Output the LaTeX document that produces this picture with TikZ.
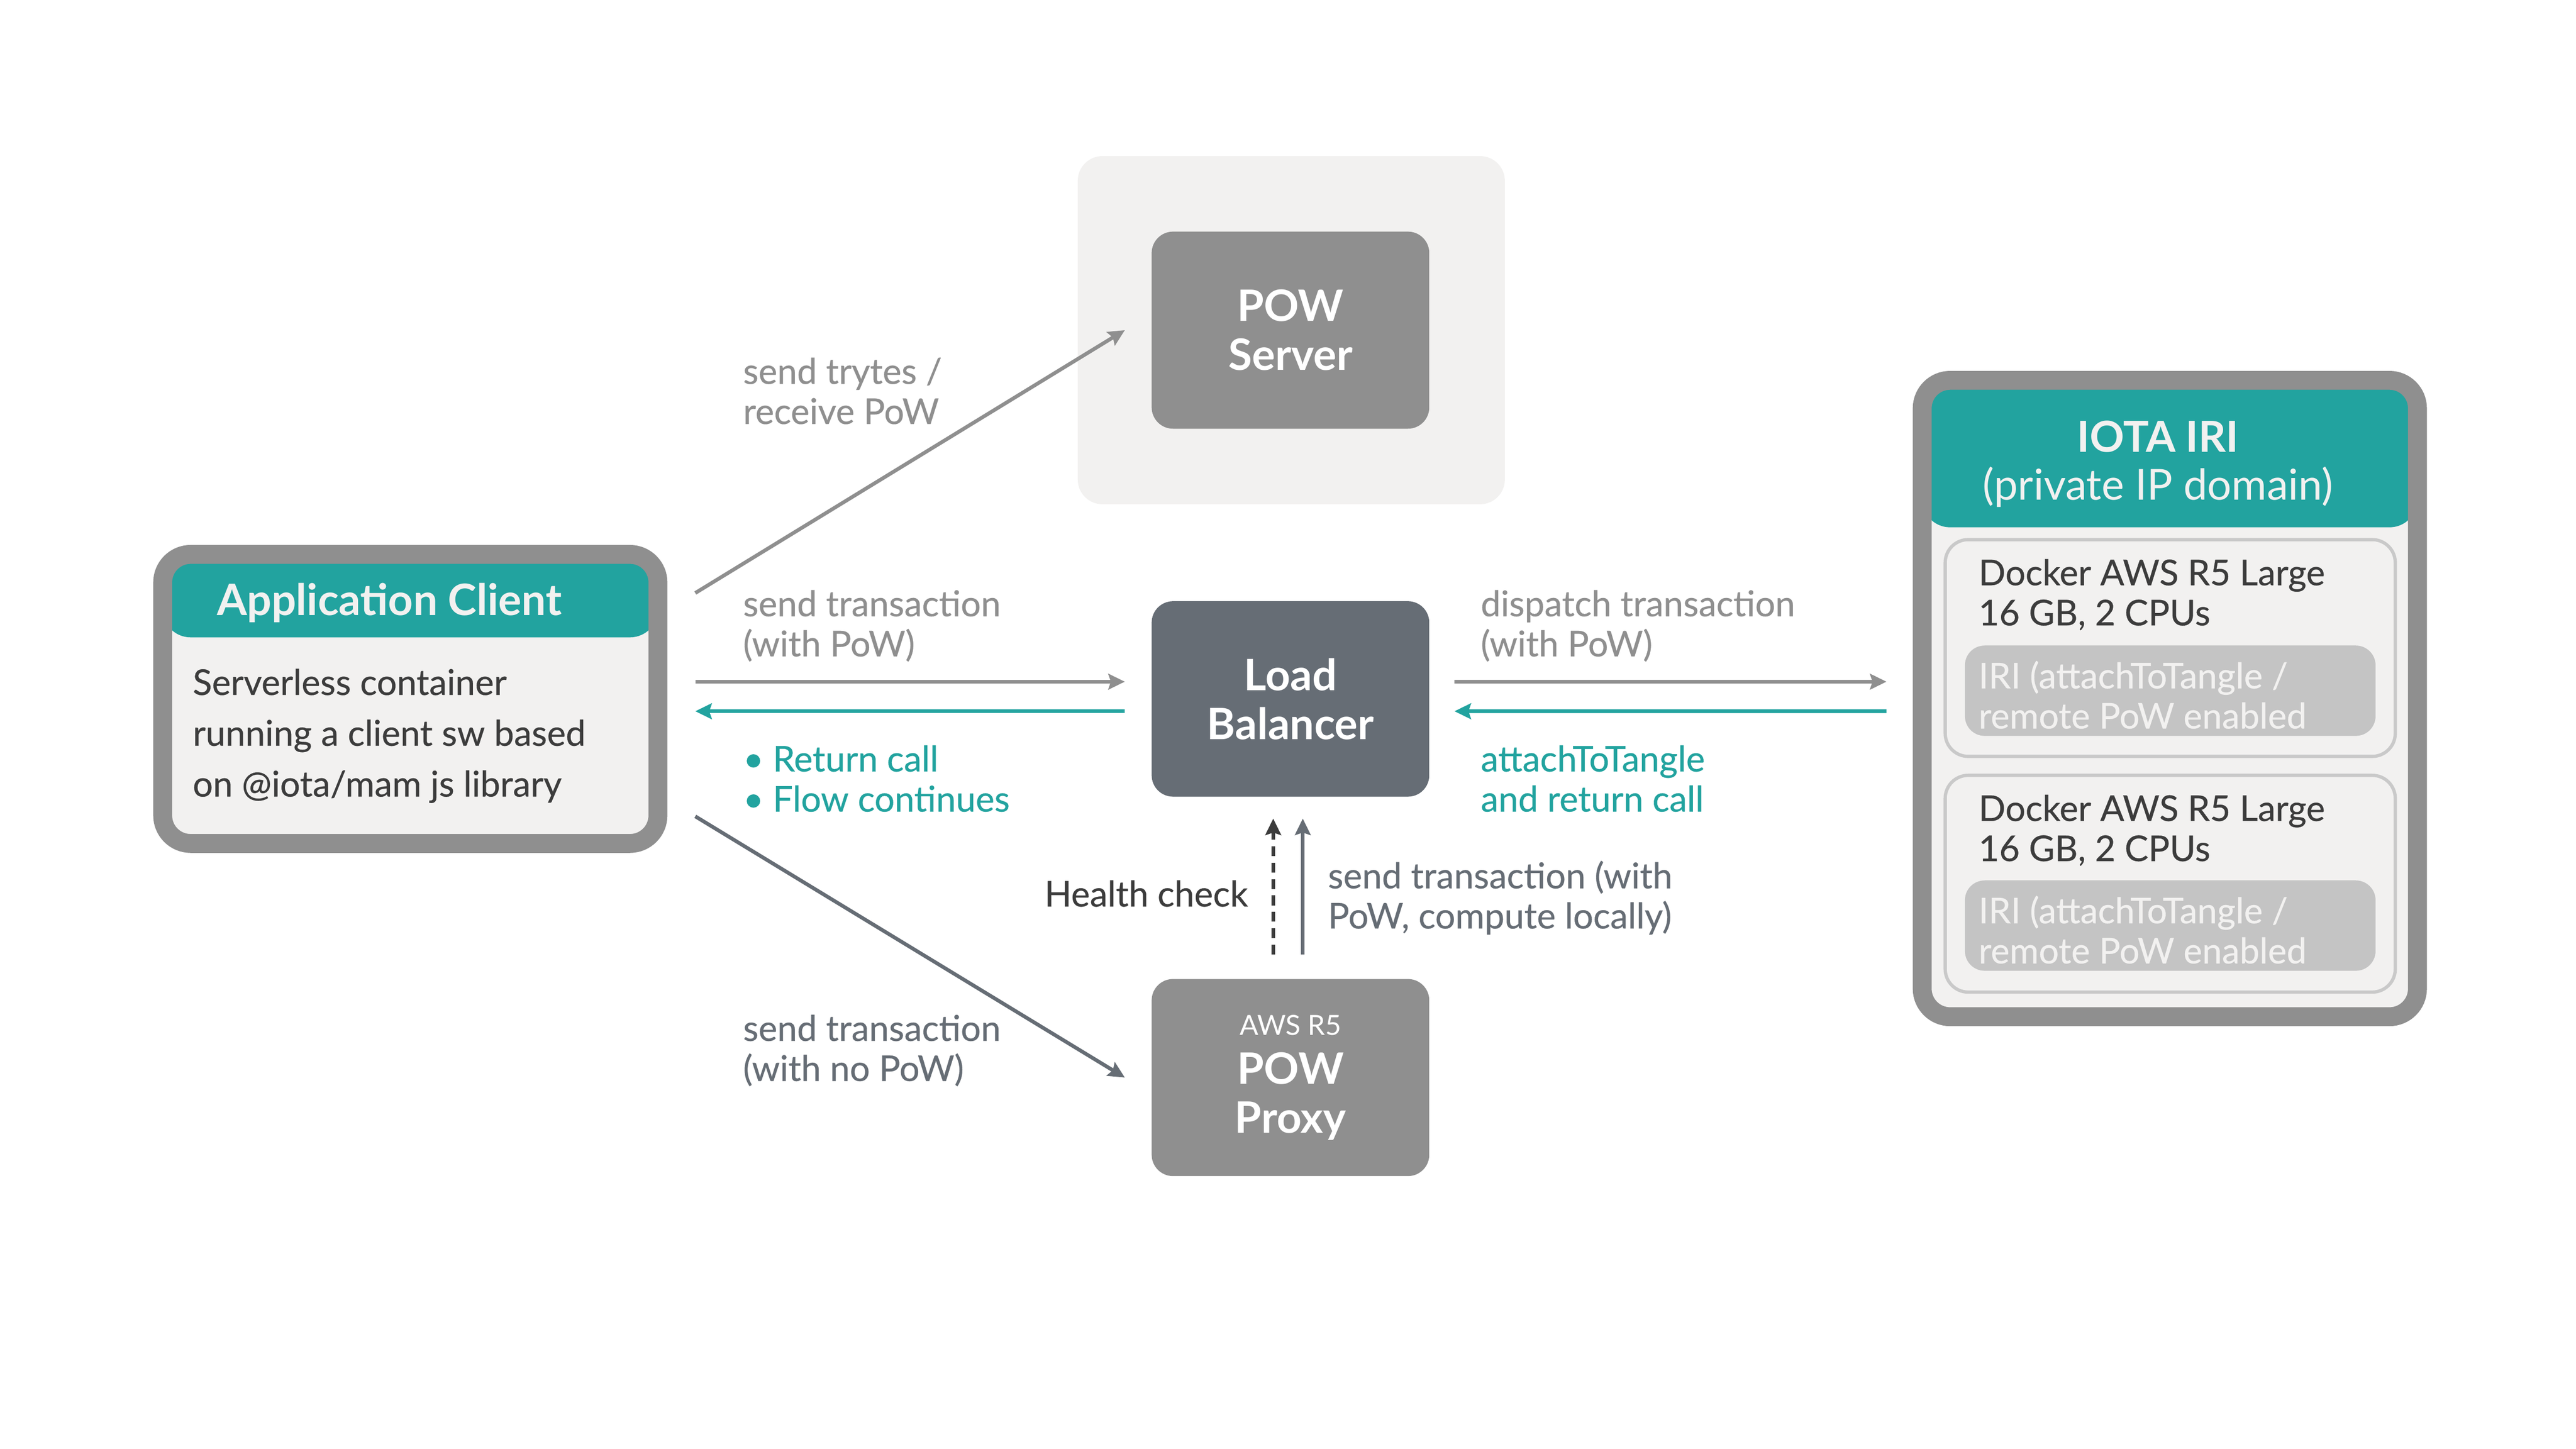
\documentclass[tikz,border=0pt]{standalone}
\usepackage{fontspec}
\setmainfont{Lato}
\newfontfamily\midweight{Lato}[FakeBold=0.4]
\usetikzlibrary{arrows.meta}

\definecolor{iotateal}{HTML}{22A39F}
\definecolor{boxgray}{HTML}{8F8F8F}
\definecolor{paper}{HTML}{F2F1F0}
\definecolor{lbgray}{HTML}{666D75}
\definecolor{inkgray}{HTML}{3C3C3C}
\definecolor{irigray}{HTML}{C4C4C4}
\definecolor{rimgray}{HTML}{C9C9C9}

\begin{document}
\begin{tikzpicture}[x=0.02cm, y=-0.02cm,
        box/.style = {fill=boxgray, rounded corners=0.26cm, minimum width=3.38cm, minimum height=2.4cm,
            inner sep=0mm, align=center, text=white, font=\fontsize{15}{17}\selectfont\bfseries},
        panel/.style = {draw=boxgray, line width=0.23cm, fill=paper, rounded corners=0.34cm,
            minimum width=6.03cm, inner sep=0mm},
        panelhead/.style = {path picture={\fill[iotateal] (path picture bounding box.north west)
            rectangle ([yshift=-#1]path picture bounding box.north east);}},
        docker/.style = {draw=rimgray, line width=0.04cm, fill=paper, rounded corners=0.28cm,
            minimum width=5.48cm, minimum height=2.64cm},
        iri/.style = {fill=irigray, rounded corners=0.24cm, minimum width=5cm, minimum height=1.1cm},
        lbl/.style = {anchor=west, align=left, inner sep=0mm, font=\midweight\fontsize{12.3}{13.9}\selectfont},
        txt/.style = {anchor=west, align=left, inner sep=0mm, font=\midweight\fontsize{12.3}{13.9}\selectfont},
        arr/.style = {draw, line width=0.045cm, -{Stealth[length=0.2cm, width=0.19cm, inset=0.03cm]}},
    ]
    \useasboundingbox (0,0) rectangle (1568,882.1);

    % client
    \node (AC) [panel, minimum height=3.52cm, panelhead=1.01cm] at (249.75,425.5) {};
    \node (ACT) [text=paper, font=\fontsize{15}{17}\selectfont\bfseries] at (237,367) {Application Client};
    \node (ACB) [txt, text=inkgray, font=\midweight\fontsize{12.3}{17.6}\selectfont] at (117,448)
        {Serverless container\\running a client sw based\\on @iota/mam js library};

    % middle column
    \node (PSB) [fill=paper, rounded corners=0.3cm, minimum width=5.2cm, minimum height=4.24cm] at (786,201) {};
    \node (PS) [box] at (785.5,201) {POW\\Server};
    \node (LB) [box, fill=lbgray, minimum height=2.38cm] at (785.5,425.5) {Load\\Balancer};
    \node (PP) [box] at (785.5,656) {{\fontsize{9.6}{10}\selectfont\mdseries AWS R5}\\POW\\Proxy};

    % iri
    \node (IRI) [panel, minimum height=7.75cm, panelhead=1.79cm] at (1320.75,425.25) {};
    \node (IRIT) [text=paper, align=center, font=\fontsize{14.8}{16.5}\selectfont] at (1313.5,282.5)
        {\textbf{IOTA IRI}\\(private IP domain)};

    \node (D1) [docker] at (1321,394.5) {};
    \node (D1T) [txt, text=inkgray] at (1204,362) {Docker AWS R5 Large\\16 GB, 2 CPUs};
    \node (R1) [iri] at (1321,420.5) {};
    \node (R1T) [txt, text=paper] at (1204,423) {IRI (attachToTangle /\\remote PoW enabled};

    \node (D2) [docker] at (1321,538) {};
    \node (D2T) [txt, text=inkgray] at (1204,505.5) {Docker AWS R5 Large\\16 GB, 2 CPUs};
    \node (R2) [iri] at (1321,563.5) {};
    \node (R2T) [txt, text=paper] at (1204,566) {IRI (attachToTangle /\\remote PoW enabled};

    % labels
    \node (L1) [lbl, text=boxgray] at (452,238) {send trytes /\\receive PoW};
    \node (L2) [lbl, text=boxgray] at (452,381) {send transaction\\(with PoW)};
    \node (L3) [lbl, text=iotateal] at (452,474) {\textbullet\ Return call\\\textbullet\ Flow continues};
    \node (L4) [lbl, text=lbgray] at (452,639.5) {send transaction\\(with no PoW)};
    \node (L5) [lbl, text=boxgray] at (901,381) {dispatch transaction\\(with PoW)};
    \node (L6) [lbl, text=iotateal] at (901,474) {attachToTangle\\and return call};
    \node (L7) [lbl, anchor=east, text=inkgray] at (760,544) {Health check};
    \node (L8) [lbl, text=lbgray] at (808,546.5) {send transaction (with\\PoW, compute locally)};

    % connectors
    \path[arr, boxgray] ([xshift=0.34cm, yshift=1.29cm]AC.east) -- ([xshift=-0.32cm]PS.west);
    \path[arr, boxgray] ([xshift=0.34cm, yshift=0.21cm]AC.east) -- ([xshift=-0.32cm, yshift=0.21cm]LB.west);
    \path[arr, iotateal] ([xshift=-0.32cm, yshift=-0.15cm]LB.west) -- ([xshift=0.34cm, yshift=-0.15cm]AC.east);
    \path[arr, lbgray] ([xshift=0.34cm, yshift=-1.43cm]AC.east) -- ([xshift=-0.32cm]PP.west);

    \path[arr, boxgray] ([xshift=0.3cm, yshift=0.21cm]LB.east) -- ([xshift=-0.32cm, yshift=0.205cm]IRI.west);
    \path[arr, iotateal] ([xshift=-0.32cm, yshift=-0.155cm]IRI.west) -- ([xshift=0.3cm, yshift=-0.15cm]LB.east);

    \path[arr, inkgray, dash pattern=on 0.12cm off 0.08cm] ([xshift=-0.21cm, yshift=0.29cm]PP.north)
        -- ([xshift=-0.21cm, yshift=-0.26cm]LB.south);
    \path[arr, lbgray] ([xshift=0.15cm, yshift=0.29cm]PP.north) -- ([xshift=0.15cm, yshift=-0.26cm]LB.south);
\end{tikzpicture}
\end{document}
